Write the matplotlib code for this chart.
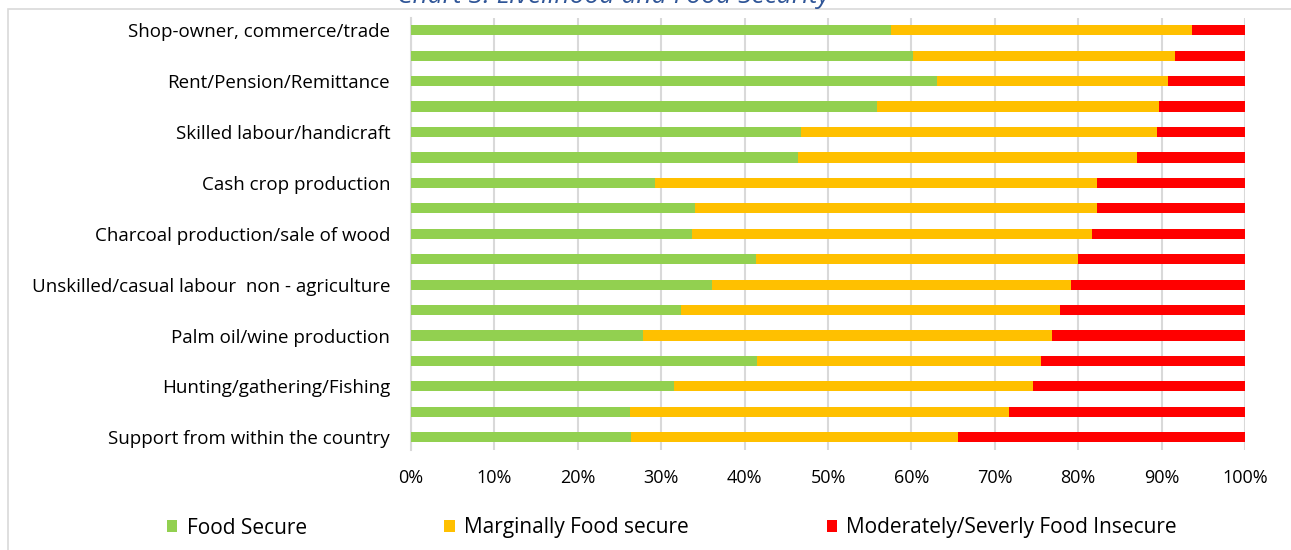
import numpy as np
import matplotlib
matplotlib.use("Agg")
import matplotlib.pyplot as plt
from matplotlib.patches import Rectangle

#######################################
## Data (% of households)
#######################################
livelihoods = ["Shop-owner, commerce/trade", "", "Rent/Pension/Remittance", "",
               "Skilled labour/handicraft", "", "Cash crop production", "",
               "Charcoal production/sale of wood", "",
               "Unskilled/casual labour  non - agriculture", "",
               "Palm oil/wine production", "", "Hunting/gathering/Fishing", "",
               "Support from within the country"]
food_secure = [57.5, 60.2, 63.1, 55.9, 46.8, 46.4, 29.3, 34.0, 33.7,
               41.4, 36.1, 32.4, 27.8, 41.5, 31.5, 26.2, 26.4]
marginal_cum = [93.6, 91.6, 90.8, 89.7, 89.4, 87.1, 82.3, 82.2, 81.7,
                80.0, 79.1, 77.8, 76.9, 75.5, 74.6, 71.7, 65.6]
marginal = [m - f for m, f in zip(marginal_cum, food_secure)]
insecure = [100 - m for m in marginal_cum]
series_names = ["Food Secure", "Marginally Food secure", "Moderately/Severly Food Insecure"]
colors = ["#92D050", "#FFC000", "#FF0000"]

plt.rcParams['font.family'] = ['Open Sans', 'DejaVu Sans']

W, H = 1291, 550
fig = plt.figure(figsize=(W / 100, H / 100), dpi=100)

## outer chart frame
fig.patches.append(Rectangle((8 / W, -0.1), 1.2, 1 - 9 / H + 0.1, transform=fig.transFigure,
                             fill=False, edgecolor="#D9D9D9", linewidth=1.2))

## title (cut off at the top in the original)
fig.text(613 / W, 1 - 3 / H, "Chart 3: Livelihood and Food Security", ha="center",
         va="baseline", fontsize=19, color="#2F5597", style="italic")

ax = fig.add_axes([411 / W, 1 - 450 / H, (1245 - 411) / W, (450 - 17.5) / H])
y = np.arange(len(livelihoods))
left = np.zeros(len(livelihoods))
handles = []
for vals, name, col in zip([food_secure, marginal, insecure], series_names, colors):
    b = ax.barh(y, vals, left=left, height=0.4, color=col, label=name, zorder=3)
    handles.append(b)
    left = left + np.array(vals)

ax.set_xlim(0, 100)
ax.set_ylim(len(livelihoods) - 0.5, -0.5)
ax.set_xticks(np.arange(0, 101, 10))
ax.set_xticklabels([f"{v}%" for v in range(0, 101, 10)])
ax.set_yticks(y)
ax.set_yticklabels(livelihoods)
ax.tick_params(axis="both", length=0, labelsize=13, colors="#000000")
ax.tick_params(axis="y", pad=15, labelsize=13.5)
ax.tick_params(axis="x", pad=14)
ax.grid(axis="x", color="#D9D9D9", linewidth=1.5, zorder=0)
for s in ["top", "right", "bottom"]:
    ax.spines[s].set_visible(False)
ax.spines["left"].set_color("#D9D9D9")
ax.spines["left"].set_linewidth(1.5)

fig.legend(handles=handles, loc="center", bbox_to_anchor=(672 / W, 1 - 528 / H), ncol=3,
           frameon=False, fontsize=15, handlelength=0.5, handleheight=0.5,
           handletextpad=0.45, columnspacing=6.6)

fig.savefig("out.png", dpi=100)
